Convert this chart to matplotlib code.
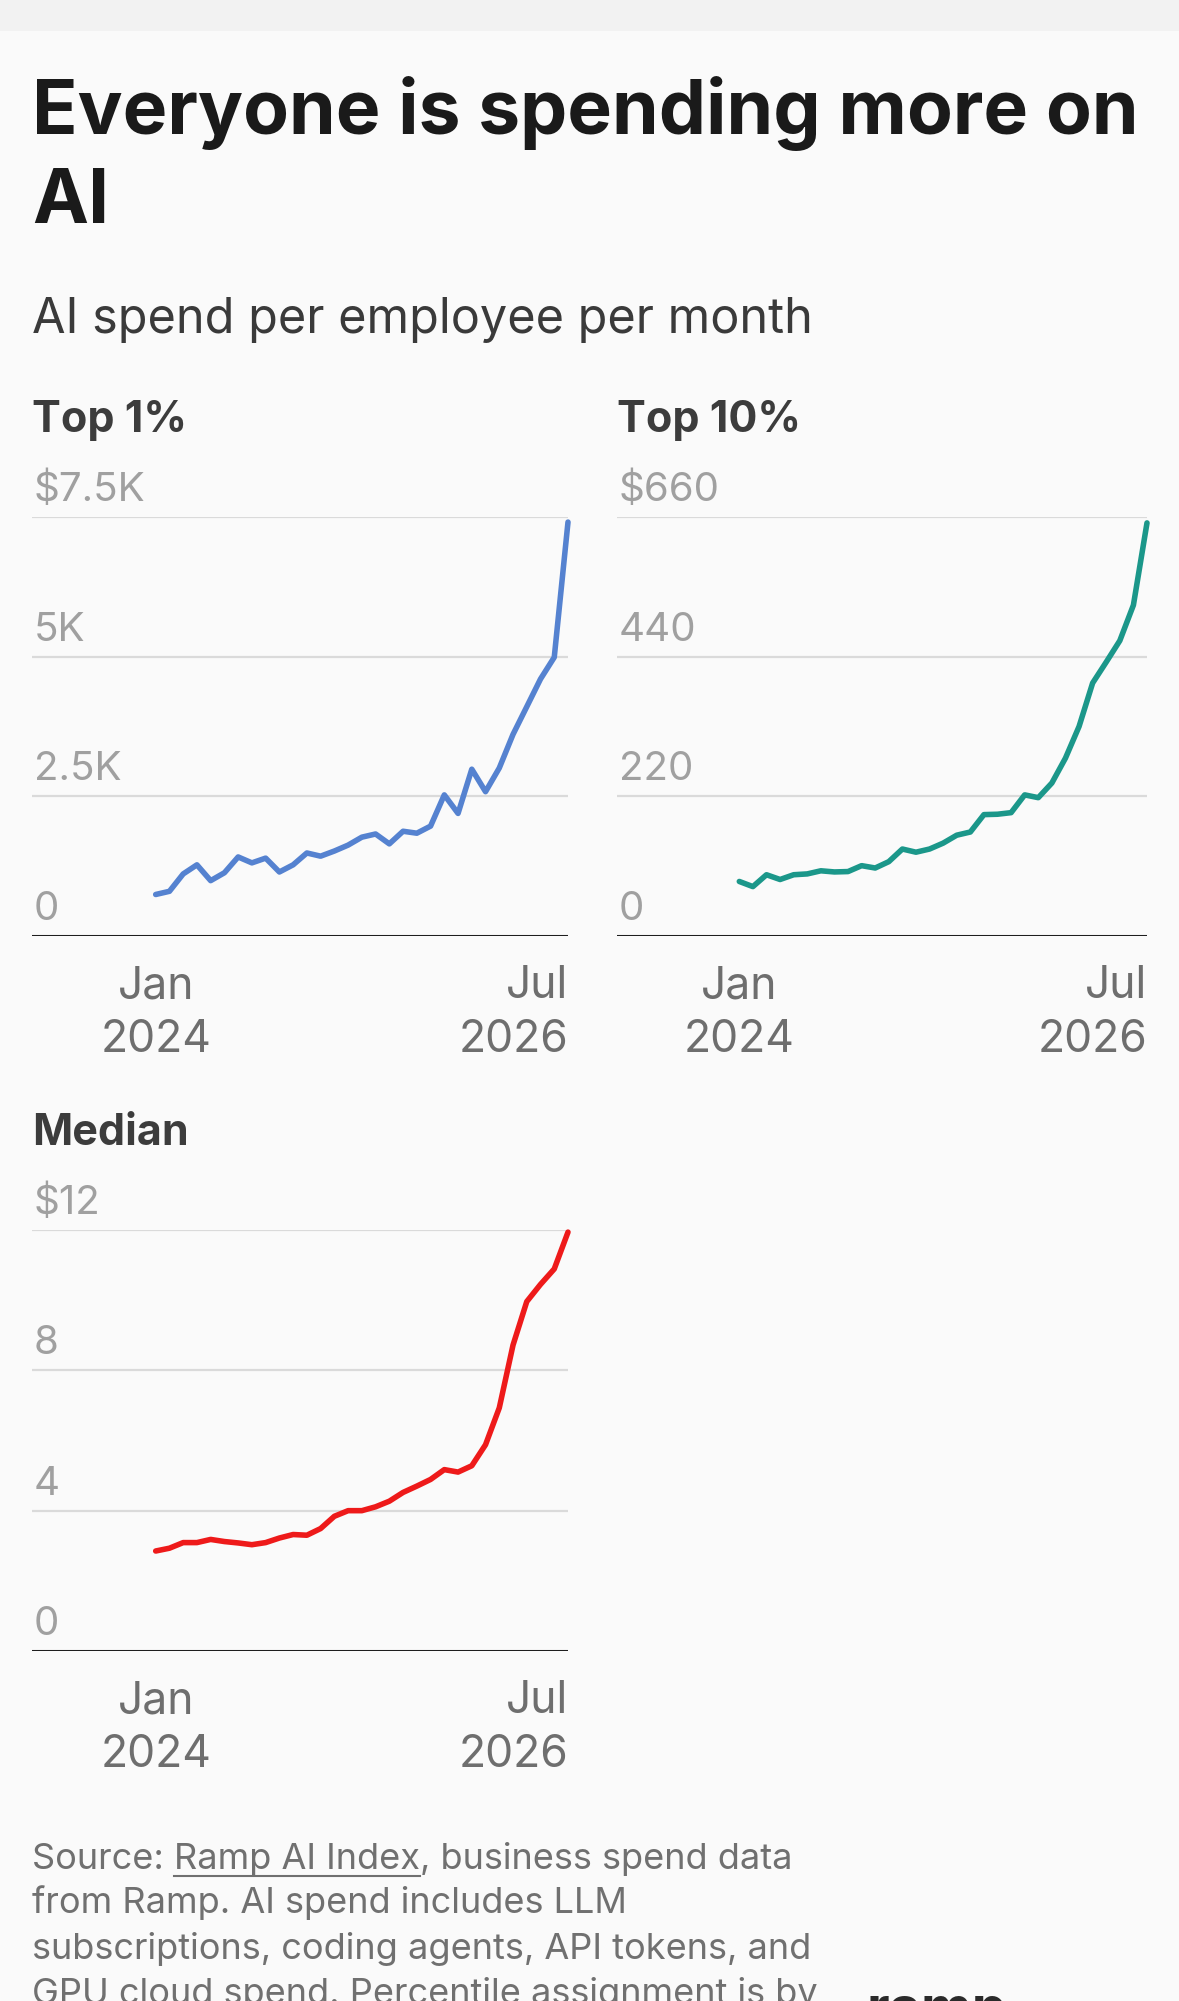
import matplotlib
matplotlib.use('Agg')
import matplotlib.pyplot as plt
import matplotlib.transforms as mtransforms
from matplotlib.patches import Rectangle
from matplotlib.lines import Line2D

# monthly values, Jan 2024 .. Jul 2026
months = list(range(31))
top1 = [743, 800, 1111, 1274, 991, 1132, 1415, 1309, 1394, 1146, 1274, 1486, 1429, 1521,
        1627, 1769, 1826, 1649, 1875, 1840, 1967, 2526, 2194, 2986, 2583, 3007, 3609,
        4104, 4600, 4989, 7409]
top10 = [85.9, 77.8, 96.5, 89.0, 96.5, 97.8, 102.7, 100.9, 101.5, 110.8, 107.1, 117.1,
         137.0, 132.0, 137.0, 146.3, 158.8, 163.8, 191.2, 191.8, 194.3, 222.3, 217.9,
         241.0, 280.2, 330.0, 398.5, 431.5, 465.2, 521.2, 650.7]
median = [2.85, 2.93, 3.09, 3.09, 3.18, 3.12, 3.08, 3.03, 3.09, 3.22, 3.32, 3.30, 3.49,
          3.84, 4.00, 4.00, 4.11, 4.27, 4.52, 4.70, 4.89, 5.17, 5.10, 5.28, 5.88, 6.93,
          8.72, 9.96, 10.45, 10.89, 11.94]

top1_ticks = [0, 2500, 5000, 7500]
top1_labels = ['0', '2.5K', '5K', '$7.5K']
top10_ticks = [0, 220, 440, 660]
top10_labels = ['0', '220', '440', '$660']
median_ticks = [0, 4, 8, 12]
median_labels = ['0', '4', '8', '$12']

x_labels = ['Jan\n2024', 'Jul\n2026']

W, H = 1179, 2001
BG = '#fafafa'


def fx(x):
    return x / W


def fy(y):
    return 1 - y / H


plt.rcParams['font.family'] = ['Inter', 'DejaVu Sans']

fig = plt.figure(figsize=(W / 100, H / 100), dpi=100, facecolor=BG)

# light band at the very top
fig.patches.append(Rectangle((0, fy(31)), 1, 1 - fy(31), transform=fig.transFigure,
                             facecolor='#f2f2f2', edgecolor='none', zorder=0))

fig.text(fx(32), fy(134), 'Everyone is spending more on', fontsize=54, weight='bold',
         color='#1a1a1a', va='baseline')
fig.text(fx(32), fy(223), 'AI', fontsize=54, weight='bold', color='#1a1a1a', va='baseline')
fig.text(fx(32), fy(333), 'AI spend per employee per month', fontsize=35,
         color='#3a3a3a', va='baseline')

panels = [
    ('Top 1%', top1, top1_ticks, top1_labels, '#5582d0', 32, 568, 517, 936),
    ('Top 10%', top10, top10_ticks, top10_labels, '#1b978a', 617, 1147, 517, 936),
    ('Median', median, median_ticks, median_labels, '#ee1a1a', 32, 568, 1230, 1651),
]

for title, vals, ticks, labels, col, l, r, t, b in panels:
    ax = fig.add_axes([fx(l), fy(b), (r - l) / W, (b - t) / H])
    ax.set_facecolor('none')
    ax.set_xlim(-9, 30)
    ax.set_ylim(0, ticks[-1])
    ax.axis('off')

    fig.text(fx(l), fy(t - 85), title, fontsize=31, weight='bold', color='#3c3c3c',
             va='baseline')

    for v in ticks[1:]:
        ax.axhline(v, color='#dadada', lw=1.6, zorder=1)
    ax.axhline(0, color='#1e1e1e', lw=2.2, zorder=3)

    ytr = mtransforms.offset_copy(ax.get_yaxis_transform(), fig=fig, x=2, y=16, units='dots')
    for v, lab in zip(ticks, labels):
        ax.text(0, v, lab, transform=ytr, fontsize=29, color='#a0a0a0',
                ha='left', va='baseline')

    ax.plot(months, vals, color=col, lw=4, clip_on=False, zorder=2,
            solid_joinstyle='round', solid_capstyle='round')

    # baseline of the bottom line (year) sits ~116 px under the axis line
    xtr = mtransforms.offset_copy(ax.get_xaxis_transform(), fig=fig, y=-116, units='dots')
    ax.text(months[0], 0, x_labels[0], transform=xtr, fontsize=32, color='#6e6e6e',
            ha='center', va='baseline', multialignment='center', linespacing=1.35)
    ax.text(months[-1], 0, x_labels[1], transform=xtr, fontsize=32, color='#6e6e6e',
            ha='right', va='baseline', multialignment='right', linespacing=1.35)

# footer
fc = '#707070'
fs = 26
rend = fig.canvas.get_renderer()
t1 = fig.text(fx(32), fy(1869), 'Source: ', fontsize=fs, color=fc, va='baseline')
bb1 = t1.get_window_extent(rend)
t2 = fig.text(bb1.x1 / W, fy(1869), 'Ramp AI Index', fontsize=fs, color=fc, va='baseline')
bb2 = t2.get_window_extent(rend)
fig.add_artist(Line2D([bb2.x0 / W, bb2.x1 / W], [fy(1876), fy(1876)],
                      transform=fig.transFigure, color=fc, lw=1.5))
fig.text(bb2.x1 / W, fy(1869), ', business spend data', fontsize=fs, color=fc, va='baseline')
fig.text(fx(32), fy(1913), 'from Ramp. AI spend includes LLM', fontsize=fs, color=fc,
         va='baseline')
fig.text(fx(32), fy(1959), 'subscriptions, coding agents, API tokens, and', fontsize=fs,
         color=fc, va='baseline')
fig.text(fx(32), fy(2004), 'GPU cloud spend. Percentile assignment is by', fontsize=fs,
         color=fc, va='baseline')

# logo peeking in at the bottom edge
fig.text(fx(867), fy(2027), 'ramp', fontsize=40, weight='bold', color='#2a2a2a',
         va='baseline')

fig.savefig('out.png', dpi=100, facecolor=BG)
